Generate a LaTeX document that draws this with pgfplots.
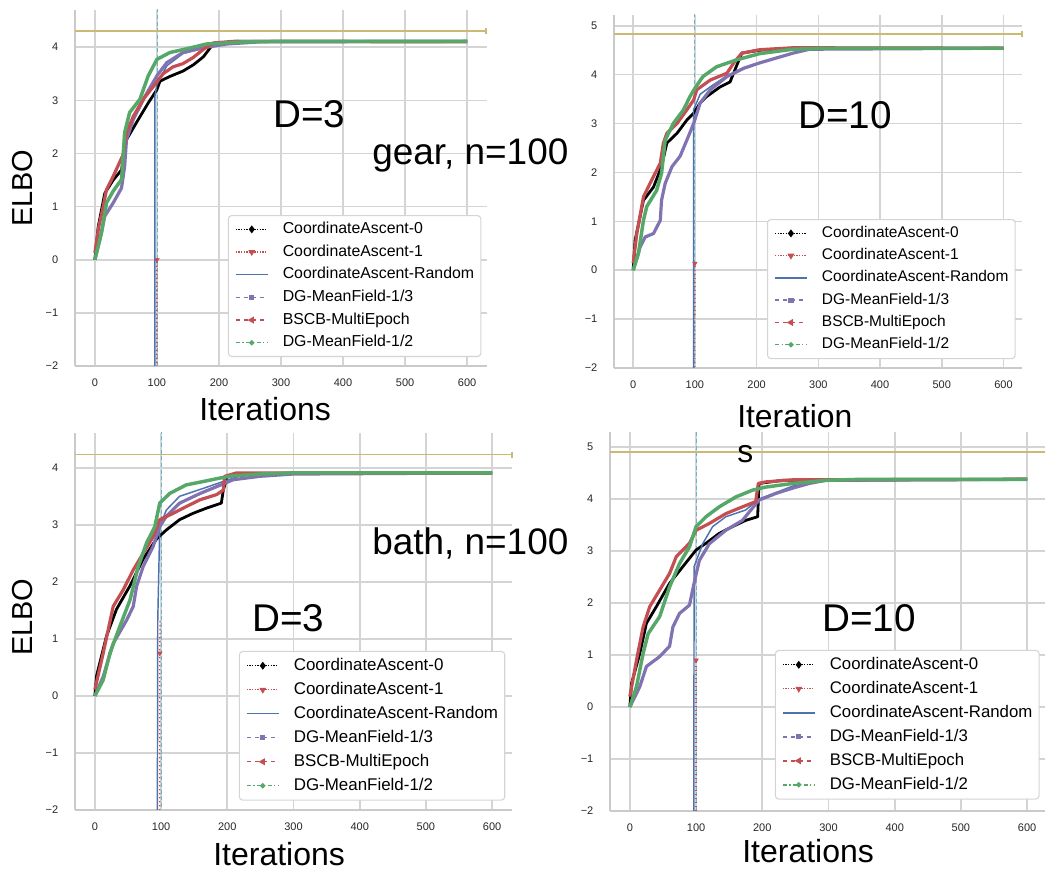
\documentclass[border=0pt]{standalone}
\usepackage{fontspec}
\setmainfont{Liberation Sans}
\usepackage{pgfplots}
\pgfplotsset{compat=1.18}
\definecolor{sbblue}{HTML}{4C72B0}
\definecolor{sbgreen}{HTML}{55A868}
\definecolor{sbred}{HTML}{C44E52}
\definecolor{sbpurple}{HTML}{8172B2}
\definecolor{sbyellow}{HTML}{CCB974}
\definecolor{sbcyan}{HTML}{64B5CD}
\definecolor{gridgray}{HTML}{D4D4D4}
\definecolor{spinegray}{HTML}{CACACA}

\pgfplotsset{
  panel/.style={
    scale only axis,
    anchor=south west,
    axis x line*=bottom, axis y line*=left,
    axis line style={draw=spinegray, line width=1.8pt, -},
    grid=major,
    major grid style={draw=gridgray, line width=1.2pt},
    major tick length=0pt,
    xtick={0,100,...,600},
    ticklabel style={font=\fontsize{8.25}{10}\selectfont, text=black!85},
    /pgf/number format/assume math mode=true,
    xticklabel shift=6pt,
    yticklabel shift=9pt,
    clip=true,
    legend cell align=left,
    legend image code/.code={\draw[mark repeat=2,mark phase=2,#1] plot coordinates {(0pt,0pt) (12pt,0pt) (24pt,0pt)};},
    legend style={anchor=north west, draw=gridgray, line width=0.8pt, fill=white,
      rounded corners=2.5pt, inner xsep=5pt, column sep=10.7pt},
  },
  leg/.style n args={4}{legend style={font=\fontsize{#1}{#1}\selectfont,
      row sep=#3, inner ysep=#4,
      nodes={inner sep=0pt, text height=#2, text depth=2.8pt}}},
  ca0/.style={black, line width=2.1pt, line join=round, forget plot},
  ca1/.style={sbred, dotted, line width=1pt, forget plot},
  ca1m/.style={sbred, only marks, mark=triangle*, mark options={solid, rotate=180}, mark size=2pt, forget plot},
  car/.style={sbblue, line width=1.1pt, forget plot},
  dg3/.style={sbpurple, line width=2.4pt, line join=round, forget plot},
  bscb/.style={sbred, line width=2.4pt, line join=round, forget plot},
  dg2/.style={sbgreen, line width=2.6pt, line join=round, forget plot},
  vline/.style={sbcyan, densely dashed, line width=0.6pt, forget plot},
  hline/.style={sbyellow, line width=1.2pt, forget plot},
  hlinem/.style={sbyellow, only marks, mark=|, mark size=2.2pt, mark options={line width=1.4pt}, forget plot},
}

\newcommand{\legendentries}{%
  \addlegendimage{black, densely dotted, line width=1pt, mark=diamond*, mark size=2.2pt, mark options={solid}}
  \addlegendentry{CoordinateAscent-0}
  \addlegendimage{sbred, densely dotted, line width=1pt, mark=triangle*, mark options={solid, rotate=180}, mark size=2pt}
  \addlegendentry{CoordinateAscent-1}
  \addlegendimage{sbblue, line width=1.1pt}
  \addlegendentry{CoordinateAscent-Random}
  \addlegendimage{sbpurple, dashed, line width=1.1pt, mark=square*, mark size=1.4pt, mark options={solid}}
  \addlegendentry{DG-MeanField-1/3}
  \addlegendimage{sbred, dashed, line width=1.1pt, mark=triangle*, mark options={solid, rotate=90}, mark size=2pt}
  \addlegendentry{BSCB-MultiEpoch}
  \addlegendimage{sbgreen, dash dot, line width=1.1pt, mark=*, mark size=1.4pt, mark options={solid}}
  \addlegendentry{DG-MeanField-1/2}
}

\begin{document}
\begin{tikzpicture}
\path[use as bounding box] (0,0) rectangle (785.25pt,653.25pt);

% ---------------- top-left: gear, D=3
\begin{axis}[panel, at={(56.25pt,378.75pt)}, width=309pt, height=267pt,
  xmin=-32, xmax=632, ymin=-2, ymax=4.7,
  ytick={-2,-1,0,1,2,3,4}, yticklabels={−2,−1,0,1,2,3,4},
  legend style={at={(0.371,0.424)}}, leg={11.9}{8.9pt}{5.3pt}{4.5pt}]
\legendentries
\addplot[vline] coordinates {(100,-3) (100,6)};
\addplot[hline] coordinates {(-32,4.3) (630,4.3)};
\addplot[hlinem] coordinates {(630,4.3)};
\addplot[ca0] coordinates {(0,0) (5.4,0.62) (16,1.25) (29.6,1.5) (43,1.69) (51,2.26) (67,2.58) (86,2.95) (100,3.2) (105,3.36) (121,3.45) (142,3.55) (159,3.67) (175,3.82) (190,4.05) (230,4.11) (600,4.11)};
\addplot[ca1] coordinates {(99.5,-10) (100,0.0)};
\addplot[ca1m] coordinates {(100,0.0)};
\addplot[car] coordinates {(96.8,-10) (96.8,3.08) (100,3.3) (116,3.65) (142,3.88) (175,3.98) (213,4.06) (266,4.1) (600,4.11)};
\addplot[dg3] coordinates {(0,0) (8,0.38) (16,0.82) (29.6,1.07) (43,1.35) (48,1.76) (51,2.26) (62,2.64) (81,3.08) (100,3.46) (116,3.71) (142,3.9) (175,3.99) (213,4.06) (266,4.1) (600,4.11)};
\addplot[bscb] coordinates {(0,0.13) (6,0.6) (13.4,1.0) (18.8,1.32) (29.6,1.57) (45.7,1.98) (51,2.39) (62,2.70) (78,3.02) (97,3.3) (110,3.5) (126,3.63) (142,3.69) (159,3.81) (175,3.96) (191,4.08) (224,4.11) (600,4.10)};
\addplot[dg2] coordinates {(0,0) (10.8,0.51) (18.8,1.07) (30,1.3) (43,1.51) (48,2.39) (56,2.77) (72.6,3.02) (86,3.46) (100,3.77) (121,3.9) (148,3.97) (180,4.06) (239,4.10) (300,4.11) (600,4.11)};
\end{axis}

% ---------------- top-right: gear, D=10
\begin{axis}[panel, at={(460.5pt,377.25pt)}, width=306pt, height=264.75pt,
  xmin=-31, xmax=630, ymin=-2, ymax=5.22,
  ytick={-2,-1,0,1,2,3,4,5}, yticklabels={−2,−1,0,1,2,3,4,5},
  legend style={at={(0.375,0.422)}}, leg={11.6}{8.8pt}{5.1pt}{4.6pt}]
\legendentries
\addplot[vline] coordinates {(100,-3) (100,6)};
\addplot[hline] coordinates {(-31,4.83) (630,4.83)};
\addplot[hlinem] coordinates {(630,4.83)};
\addplot[ca0] coordinates {(0,0) (3.2,0.61) (16.7,1.43) (33,1.7) (46,2.12) (54.6,2.6) (71,2.8) (87,3.07) (98,3.21) (108.6,3.42) (119,3.55) (141,3.75) (157,3.85) (165,4.1) (176,4.44) (205,4.5) (260,4.54) (600,4.54)};
\addplot[ca1] coordinates {(99.5,-10) (100,0.14)};
\addplot[ca1m] coordinates {(100,0.14)};
\addplot[car] coordinates {(97.8,-10) (97.8,3.28) (108.6,3.6) (125,3.75) (152,3.98) (179,4.14) (232,4.35) (286,4.52) (600,4.54)};
\addplot[dg3] coordinates {(0,0) (11.5,0.48) (19.6,0.68) (33,0.75) (44,1.02) (46,1.43) (52,1.78) (63,2.12) (76,2.33) (87,2.66) (98,3.0) (108.6,3.42) (125,3.69) (152,3.96) (179,4.13) (205,4.24) (232,4.34) (259,4.44) (286,4.52) (600,4.54)};
\addplot[bscb] coordinates {(0,0.14) (6,0.75) (16.7,1.5) (27.5,1.78) (44,2.19) (49,2.6) (54.6,2.8) (71,3.0) (87,3.28) (98,3.48) (103,3.69) (125,3.89) (152,4.03) (163,4.24) (176,4.44) (205,4.51) (259,4.55) (600,4.54)};
\addplot[dg2] coordinates {(0,0) (8.6,0.34) (16.7,1.02) (22,1.3) (38,1.63) (46,1.98) (51.9,2.66) (65,3.0) (81.6,3.28) (92,3.55) (100,3.72) (113,3.96) (135,4.16) (167,4.3) (205,4.43) (259,4.52) (313,4.54) (600,4.54)};
\end{axis}

% ---------------- bottom-left: bath, D=3
\begin{axis}[panel, at={(56.25pt,45.75pt)}, width=327.75pt, height=282.75pt,
  xmin=-30, xmax=630, ymin=-2, ymax=4.61,
  ytick={-2,-1,0,1,2,3,4}, yticklabels={−2,−1,0,1,2,3,4},
  legend style={at={(0.375,0.422)}}, leg={12.7}{9.5pt}{5.7pt}{4.6pt}]
\legendentries
\addplot[vline] coordinates {(100,-3) (100,6)};
\addplot[hline] coordinates {(-30,4.23) (630,4.23)};
\addplot[hlinem] coordinates {(630,4.23)};
\addplot[ca0] coordinates {(0,0) (2.5,0.35) (17.6,1.05) (32.7,1.52) (53,1.93) (73,2.4) (93,2.75) (108,2.91) (128,3.09) (148,3.2) (168,3.29) (191,3.38) (194,3.61) (200,3.85) (240,3.9) (600,3.91)};
\addplot[ca1] coordinates {(98,-10) (98,0.75) (98.5,1.35)};
\addplot[ca1m] coordinates {(98,0.75)};
\addplot[car] coordinates {(93,-10) (95,1.33) (98,2.97) (108,3.26) (128,3.5) (164,3.64) (194,3.76) (220,3.86) (300,3.9) (600,3.91)};
\addplot[dg3] coordinates {(0,0) (12.6,0.34) (27.7,0.92) (48,1.33) (58,1.57) (63,1.92) (73,2.27) (88,2.62) (98,2.97) (108,3.15) (128,3.38) (159,3.55) (184,3.67) (209,3.79) (249,3.85) (299,3.89) (600,3.91)};
\addplot[bscb] coordinates {(0,0.11) (12.6,0.75) (27.7,1.57) (42.8,1.86) (58,2.21) (73,2.5) (88,2.79) (98,3.09) (118,3.2) (138,3.32) (159,3.44) (184,3.53) (194,3.61) (196,3.85) (214,3.91) (600,3.91)};
\addplot[dg2] coordinates {(0,0) (12.6,0.28) (22.7,0.75) (37.8,1.22) (53,1.68) (65.5,2.27) (78,2.68) (90.6,2.97) (98,3.38) (113,3.55) (138,3.7) (164,3.76) (189,3.82) (209,3.86) (249,3.89) (299,3.91) (600,3.91)};
\end{axis}

% ---------------- bottom-right: bath, D=10
\begin{axis}[panel, at={(457.5pt,45pt)}, width=326.25pt, height=284.25pt,
  xmin=-30, xmax=627, ymin=-2, ymax=5.29,
  ytick={-2,-1,0,1,2,3,4,5}, yticklabels={−2,−1,0,1,2,3,4,5},
  legend style={at={(0.379,0.425)}}, leg={12.6}{9.5pt}{5.7pt}{4.6pt}]
\legendentries
\addplot[vline] coordinates {(100,-3) (100,6)};
\addplot[hline] coordinates {(-30,4.9) (640,4.9)};
\addplot[ca0] coordinates {(0,0) (2.5,0.45) (15,1.03) (25,1.61) (40,1.93) (60,2.38) (80,2.7) (100,3.02) (115,3.15) (135,3.34) (155,3.47) (175,3.59) (193,3.66) (195,4.3) (230,4.36) (600,4.38)};
\addplot[ca1] coordinates {(100,-10) (100,0.9)};
\addplot[ca1m] coordinates {(100,0.9)};
\addplot[car] coordinates {(96,-10) (97,2.7) (110,3.14) (125,3.47) (145,3.66) (175,3.79) (195,4.0) (246,4.25) (296,4.36) (600,4.38)};
\addplot[dg3] coordinates {(0,0) (15,0.39) (25,0.78) (45,0.97) (60,1.17) (65,1.54) (75,1.8) (90,1.96) (98,2.44) (105,2.82) (120,3.14) (145,3.4) (170,3.59) (195,3.98) (221,4.11) (246,4.21) (271,4.3) (296,4.36) (600,4.38)};
\addplot[bscb] coordinates {(0,0.2) (10,0.9) (20,1.54) (30,1.93) (45,2.25) (60,2.57) (70,2.89) (90,3.15) (100,3.4) (120,3.53) (145,3.72) (170,3.85) (190,3.95) (194,4.3) (205,4.33) (246,4.37) (600,4.38)};
\addplot[dg2] coordinates {(0,0) (10,0.39) (20,1.03) (27.6,1.41) (45,1.74) (60,2.31) (75,2.76) (90,3.08) (100,3.47) (115,3.66) (135,3.85) (160,4.04) (185,4.17) (205,4.23) (246,4.3) (296,4.36) (350,4.38) (600,4.38)};
\end{axis}

% ---------------- labels and annotations
\node[anchor=base west, rotate=90, font=\fontsize{21.7}{24}\selectfont, inner sep=0pt] at (24.75pt,483pt) {ELBO};
\node[anchor=base west, rotate=90, font=\fontsize{21.7}{24}\selectfont, inner sep=0pt] at (24.75pt,161.25pt) {ELBO};
\node[anchor=base west, font=\fontsize{24}{28}\selectfont, inner sep=0pt] at (149.25pt,337.5pt) {Iterations};
\node[anchor=base west, font=\fontsize{23.9}{28}\selectfont, inner sep=0pt] at (552.75pt,332.25pt) {Iteration};
\node[anchor=base west, font=\fontsize{23.9}{28}\selectfont, inner sep=0pt] at (552.75pt,306pt) {s};
\node[anchor=base west, font=\fontsize{24}{28}\selectfont, inner sep=0pt] at (159.75pt,3.75pt) {Iterations};
\node[anchor=base west, font=\fontsize{24}{28}\selectfont, inner sep=0pt] at (556.5pt,6pt) {Iterations};
\node[anchor=base west, font=\fontsize{29}{33}\selectfont, inner sep=0pt] at (204.75pt,557.25pt) {D=3};
\node[anchor=base west, font=\fontsize{27.7}{32}\selectfont, inner sep=0pt] at (279pt,529.5pt) {gear, n=100};
\node[anchor=base west, font=\fontsize{29}{33}\selectfont, inner sep=0pt] at (598.5pt,556.5pt) {D=10};
\node[anchor=base west, font=\fontsize{27.7}{32}\selectfont, inner sep=0pt] at (279pt,237pt) {bath, n=100};
\node[anchor=base west, font=\fontsize{29}{33}\selectfont, inner sep=0pt] at (189pt,179.25pt) {D=3};
\node[anchor=base west, font=\fontsize{29}{33}\selectfont, inner sep=0pt] at (616.5pt,179.25pt) {D=10};
\end{tikzpicture}
\end{document}
